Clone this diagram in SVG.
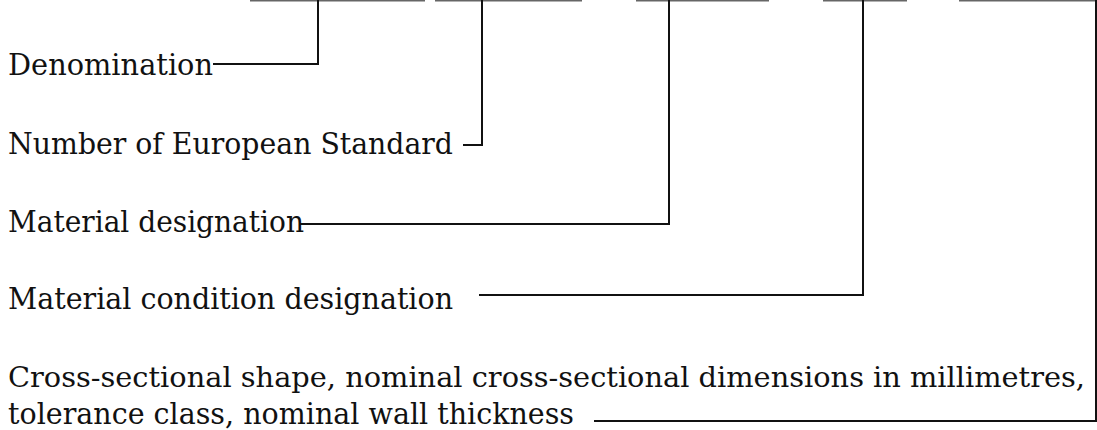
<svg xmlns="http://www.w3.org/2000/svg" width="1097" height="430" viewBox="0 0 1097 430">
<style>
.t{font-family:"DejaVu Serif","Liberation Serif",serif;font-size:29px;fill:#111}
.s{font-size:28px}
.c{fill:none;stroke:#111;stroke-width:2}
.top{fill:none;stroke:#666;stroke-width:2}
</style>
<rect width="1097" height="430" fill="#fff"/>
<g id="top-edges">
<line class="top" x1="250" y1="0.5" x2="425" y2="0.5"/>
<line class="top" x1="435" y1="0.5" x2="582" y2="0.5"/>
<line class="top" x1="636" y1="0.5" x2="769" y2="0.5"/>
<line class="top" x1="823" y1="0.5" x2="907" y2="0.5"/>
<line class="top" x1="959" y1="0.5" x2="1097" y2="0.5"/>
</g>
<g id="connectors">
<polyline class="c" points="213,64 318,64 318,0"/>
<polyline class="c" points="463,145 482,145 482,0"/>
<polyline class="c" points="300,224 669,224 669,0"/>
<polyline class="c" points="479,295 863,295 863,0"/>
<polyline class="c" points="594,421 1096,421 1096,0"/>
</g>
<g id="n1"><text class="t" x="8" y="75" textLength="205" lengthAdjust="spacingAndGlyphs">Denomination</text></g>
<g id="n2"><text class="t" x="8" y="154" textLength="445" lengthAdjust="spacingAndGlyphs">Number of European Standard</text></g>
<g id="n3"><text class="t" x="8" y="232" textLength="296" lengthAdjust="spacingAndGlyphs">Material designation</text></g>
<g id="n4"><text class="t" x="8" y="309" textLength="445" lengthAdjust="spacingAndGlyphs">Material condition designation</text></g>
<g id="n5">
<text class="t s" x="8" y="387" textLength="1077" lengthAdjust="spacingAndGlyphs">Cross-sectional shape, nominal cross-sectional dimensions in millimetres,</text>
<text class="t" x="8" y="424" textLength="566" lengthAdjust="spacingAndGlyphs">tolerance class, nominal wall thickness</text>
</g>
</svg>
